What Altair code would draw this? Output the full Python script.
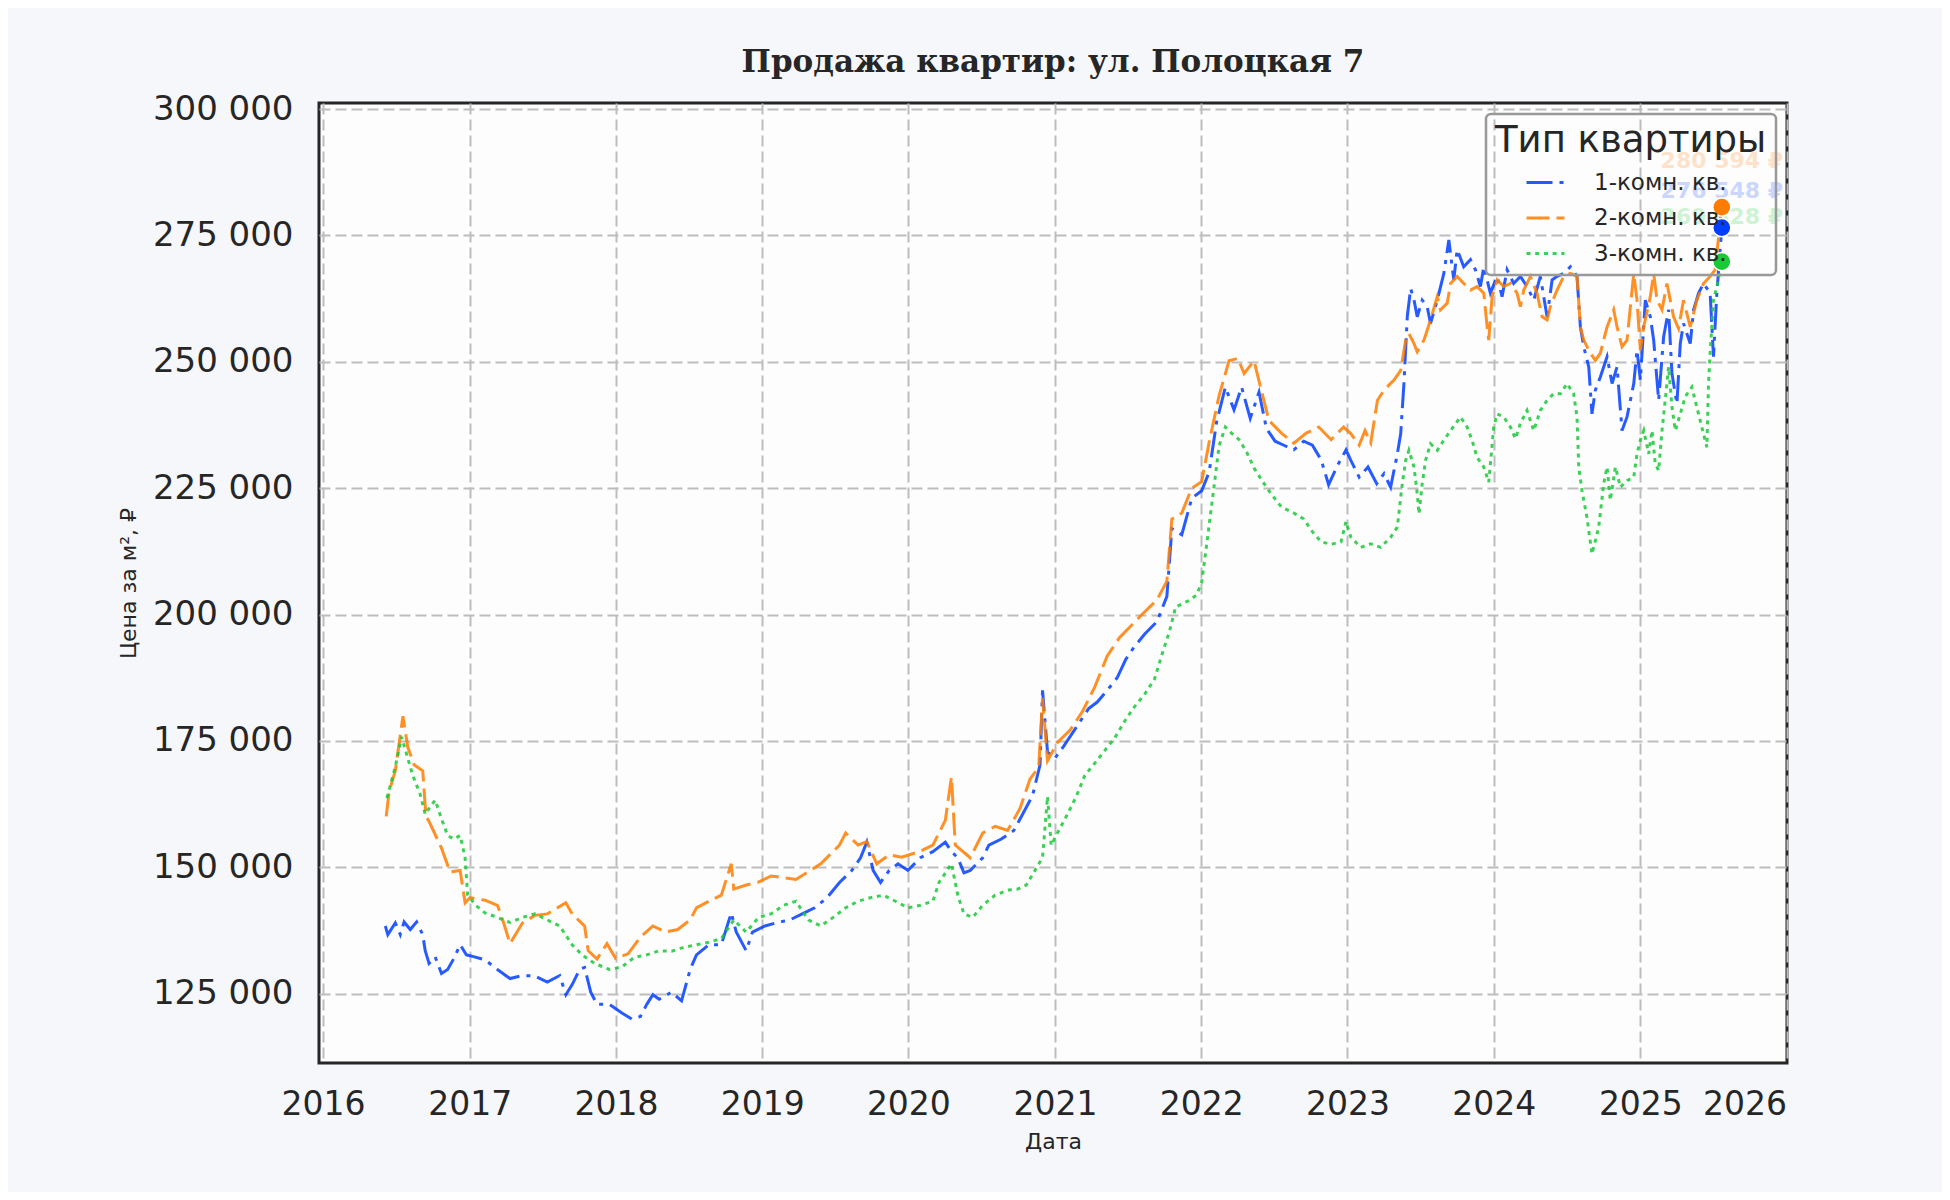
import altair as alt
import pandas as pd

TYPES = ["1-комн. кв.", "2-комн. кв.", "3-комн. кв."]
COLORS = ["#023eff", "#ff7c00", "#1ac938"]
DASHES = [[26, 7, 4, 7], [23, 7], [4, 4.7]]
LABEL_DY = [-37, -46, -45]
Y_TICKS = [125000, 150000, 175000, 200000, 225000, 250000, 275000, 300000]

# (decimal year, price per m2)
one_room = [
    (2016.425, 138400), (2016.442, 136700), (2016.493, 139000), (2016.527, 136700), (2016.553, 139200),
    (2016.595, 137700), (2016.638, 139200), (2016.680, 136700), (2016.697, 133500), (2016.723, 131000),
    (2016.765, 132300), (2016.808, 129000), (2016.850, 129800), (2016.893, 132000), (2016.935, 134700),
    (2016.978, 132700), (2017.020, 132400), (2017.105, 131700), (2017.190, 129800), (2017.276, 128000),
    (2017.361, 128600), (2017.446, 128500), (2017.531, 127300), (2017.616, 128600), (2017.658, 124800),
    (2017.701, 126800), (2017.752, 129800), (2017.786, 130200), (2017.828, 125300), (2017.871, 122900),
    (2017.956, 122900), (2018.041, 121200), (2018.109, 120000), (2018.168, 120500), (2018.211, 122900),
    (2018.253, 124800), (2018.296, 123900), (2018.381, 125300), (2018.449, 123600), (2018.508, 129800),
    (2018.551, 132700), (2018.636, 134700), (2018.721, 134700), (2018.789, 141000), (2018.823, 137200),
    (2018.891, 133500), (2018.934, 137200), (2019.019, 138400), (2019.104, 139100), (2019.189, 139600),
    (2019.274, 140800), (2019.359, 142000), (2019.444, 144000), (2019.529, 147000), (2019.614, 149400),
    (2019.673, 151900), (2019.716, 155000), (2019.759, 149400), (2019.810, 147000), (2019.869, 149400),
    (2019.929, 150700), (2019.997, 149400), (2020.082, 151900), (2020.167, 153100), (2020.252, 155000),
    (2020.294, 153100), (2020.337, 151900), (2020.379, 148900), (2020.422, 149400), (2020.507, 151900),
    (2020.549, 154400), (2020.634, 155600), (2020.719, 157300), (2020.779, 160500), (2020.847, 164200),
    (2020.898, 170300), (2020.915, 185000), (2020.949, 172800), (2021.000, 171600), (2021.060, 174000),
    (2021.145, 177700), (2021.230, 181400), (2021.289, 182700), (2021.357, 185000), (2021.425, 187500),
    (2021.485, 191200), (2021.544, 193700), (2021.612, 196100), (2021.697, 198600), (2021.765, 203600),
    (2021.799, 217000), (2021.867, 215800), (2021.935, 223000), (2022.003, 224500), (2022.054, 228200),
    (2022.105, 238100), (2022.165, 245000), (2022.224, 240500), (2022.276, 245000), (2022.335, 238800),
    (2022.395, 244000), (2022.446, 236800), (2022.505, 234300), (2022.565, 233500), (2022.633, 232600),
    (2022.701, 234300), (2022.760, 233500), (2022.820, 230600), (2022.871, 225700), (2022.930, 229400),
    (2022.990, 232600), (2023.023, 230500), (2023.080, 227200), (2023.140, 229200), (2023.200, 225900),
    (2023.250, 227900), (2023.295, 225200), (2023.341, 231800), (2023.364, 235800), (2023.386, 245700),
    (2023.409, 259000), (2023.432, 264500), (2023.455, 262200), (2023.477, 258900), (2023.511, 262200),
    (2023.545, 260900), (2023.568, 257600), (2023.614, 262200), (2023.659, 267500), (2023.693, 274100),
    (2023.727, 266200), (2023.750, 272200), (2023.795, 268800), (2023.841, 270200), (2023.875, 268200),
    (2023.909, 264900), (2023.932, 268800), (2023.977, 263600), (2024.023, 266900), (2024.057, 262900),
    (2024.091, 268200), (2024.136, 265500), (2024.182, 266900), (2024.227, 264900), (2024.273, 262200),
    (2024.318, 266900), (2024.364, 258900), (2024.398, 266200), (2024.432, 266900), (2024.477, 267500),
    (2024.523, 268800), (2024.568, 266900), (2024.591, 256900), (2024.614, 253000), (2024.648, 249000),
    (2024.670, 239700), (2024.693, 244400), (2024.727, 247000), (2024.773, 251000), (2024.807, 245700),
    (2024.841, 249000), (2024.875, 236400), (2024.909, 239100), (2024.955, 245700), (2024.977, 252300),
    (2025.000, 246400), (2025.034, 262200), (2025.068, 258900), (2025.091, 254300), (2025.125, 242400),
    (2025.159, 254900), (2025.193, 260300), (2025.216, 247700), (2025.250, 241700), (2025.273, 253600),
    (2025.295, 257600), (2025.341, 253600), (2025.364, 260300), (2025.398, 263600), (2025.432, 265500),
    (2025.477, 263600), (2025.500, 251000), (2025.523, 263600), (2025.557, 276548),
]

two_room = [
    (2016.431, 160100), (2016.451, 165000), (2016.493, 169100), (2016.545, 179900), (2016.578, 173800),
    (2016.621, 170300), (2016.680, 169100), (2016.702, 160100), (2016.723, 159100), (2016.765, 156500),
    (2016.808, 153800), (2016.867, 149100), (2016.935, 149400), (2016.969, 143000), (2017.003, 144000),
    (2017.105, 143500), (2017.190, 142500), (2017.233, 139000), (2017.276, 134900), (2017.361, 139000),
    (2017.446, 140500), (2017.531, 140800), (2017.658, 143000), (2017.701, 140800), (2017.786, 138400),
    (2017.811, 133500), (2017.871, 131900), (2017.939, 134900), (2017.998, 132000), (2018.083, 132900),
    (2018.168, 136200), (2018.253, 138400), (2018.338, 137200), (2018.423, 137700), (2018.508, 139600),
    (2018.551, 142000), (2018.636, 143300), (2018.721, 144500), (2018.789, 150700), (2018.806, 145700),
    (2018.891, 146500), (2018.976, 147100), (2019.061, 148300), (2019.231, 147600), (2019.401, 150700),
    (2019.529, 154400), (2019.571, 156800), (2019.656, 154400), (2019.716, 155100), (2019.784, 150700),
    (2019.869, 152500), (2019.954, 152000), (2020.082, 153200), (2020.167, 154400), (2020.252, 159300),
    (2020.294, 167900), (2020.320, 154400), (2020.422, 151900), (2020.507, 156800), (2020.592, 158100),
    (2020.677, 157300), (2020.762, 161700), (2020.830, 167500), (2020.889, 169800), (2020.915, 183500),
    (2020.949, 171100), (2021.017, 174700), (2021.102, 177100), (2021.187, 180800), (2021.272, 185700),
    (2021.357, 191800), (2021.442, 195500), (2021.527, 198000), (2021.612, 200500), (2021.697, 202900),
    (2021.765, 206600), (2021.799, 218900), (2021.867, 220100), (2021.935, 225000), (2022.003, 226300),
    (2022.054, 234100), (2022.122, 243300), (2022.190, 250200), (2022.250, 250700), (2022.293, 247700),
    (2022.361, 250200), (2022.420, 243300), (2022.463, 238400), (2022.548, 235900), (2022.633, 233900),
    (2022.718, 235900), (2022.803, 237100), (2022.888, 234600), (2022.973, 237100), (2023.023, 235800),
    (2023.080, 233500), (2023.120, 236400), (2023.159, 234000), (2023.205, 242400), (2023.250, 244400),
    (2023.318, 246400), (2023.364, 248300), (2023.398, 254300), (2023.420, 255600), (2023.455, 253600),
    (2023.477, 252000), (2023.523, 254300), (2023.568, 258300), (2023.614, 262900), (2023.636, 260300),
    (2023.682, 261600), (2023.705, 265500), (2023.750, 266900), (2023.795, 265500), (2023.841, 264200),
    (2023.886, 264900), (2023.932, 263600), (2023.955, 256900), (2023.966, 254300), (2023.989, 262900),
    (2024.023, 266200), (2024.068, 264900), (2024.114, 265500), (2024.159, 263600), (2024.182, 260900),
    (2024.205, 264200), (2024.250, 266900), (2024.295, 263600), (2024.330, 258900), (2024.364, 258300),
    (2024.386, 260900), (2024.432, 264200), (2024.477, 266900), (2024.523, 267500), (2024.568, 266900),
    (2024.591, 256900), (2024.614, 254300), (2024.659, 251700), (2024.693, 250300), (2024.727, 251700),
    (2024.773, 256900), (2024.818, 260300), (2024.841, 256900), (2024.875, 253000), (2024.909, 254300),
    (2024.955, 267500), (2024.977, 262200), (2025.000, 252300), (2025.023, 256900), (2025.068, 262900),
    (2025.091, 267500), (2025.114, 262200), (2025.148, 260300), (2025.182, 265500), (2025.227, 258900),
    (2025.261, 256600), (2025.295, 262200), (2025.341, 256900), (2025.386, 262200), (2025.432, 265500),
    (2025.477, 266900), (2025.511, 268200), (2025.557, 280594),
]

three_room = [
    (2016.436, 163700), (2016.493, 169900), (2016.536, 175800), (2016.570, 172400), (2016.612, 168200),
    (2016.663, 164400), (2016.697, 160500), (2016.731, 162000), (2016.765, 163300), (2016.808, 159600),
    (2016.850, 156300), (2016.893, 155600), (2016.935, 156300), (2016.969, 151900), (2016.986, 144600),
    (2017.037, 142600), (2017.105, 141000), (2017.190, 140100), (2017.276, 139100), (2017.361, 140100),
    (2017.446, 140800), (2017.531, 139600), (2017.616, 138400), (2017.701, 134700), (2017.769, 132700),
    (2017.854, 131000), (2017.956, 129800), (2018.041, 130300), (2018.126, 132200), (2018.211, 132700),
    (2018.296, 133500), (2018.381, 133400), (2018.466, 134200), (2018.551, 134700), (2018.636, 135200),
    (2018.721, 135900), (2018.806, 139600), (2018.891, 137200), (2018.976, 140100), (2019.061, 140800),
    (2019.146, 142500), (2019.231, 143300), (2019.316, 139600), (2019.401, 138400), (2019.486, 140100),
    (2019.571, 142000), (2019.656, 143300), (2019.741, 144000), (2019.827, 144500), (2019.912, 143300),
    (2019.997, 142000), (2020.082, 142500), (2020.167, 143300), (2020.209, 147000), (2020.294, 150700),
    (2020.337, 144500), (2020.379, 140800), (2020.439, 140100), (2020.507, 142500), (2020.592, 144500),
    (2020.677, 145500), (2020.745, 145700), (2020.804, 146500), (2020.864, 149400), (2020.915, 151900),
    (2020.949, 164000), (2020.974, 154400), (2021.017, 156800), (2021.085, 160500), (2021.145, 164000),
    (2021.204, 168200), (2021.272, 170600), (2021.340, 173100), (2021.408, 175600), (2021.485, 179300),
    (2021.544, 181800), (2021.612, 184200), (2021.680, 187200), (2021.740, 192900), (2021.782, 196600),
    (2021.825, 201500), (2021.910, 202700), (2021.969, 203900), (2022.003, 206400), (2022.037, 213800),
    (2022.080, 223600), (2022.122, 233400), (2022.165, 237100), (2022.207, 235900), (2022.259, 234600),
    (2022.310, 232200), (2022.361, 229000), (2022.420, 226300), (2022.480, 223800), (2022.548, 221300),
    (2022.633, 220100), (2022.701, 218900), (2022.760, 216400), (2022.820, 214400), (2022.888, 213900),
    (2022.956, 214400), (2022.990, 218400), (2023.023, 215300), (2023.091, 213300), (2023.159, 214000),
    (2023.227, 213300), (2023.295, 215300), (2023.341, 217300), (2023.364, 223200), (2023.375, 225900),
    (2023.398, 230500), (2023.420, 232500), (2023.455, 229200), (2023.477, 223900), (2023.489, 219900),
    (2023.511, 225900), (2023.534, 230500), (2023.568, 233800), (2023.614, 232500), (2023.659, 234500),
    (2023.705, 236400), (2023.773, 239100), (2023.818, 237100), (2023.852, 234500), (2023.886, 231100),
    (2023.932, 229200), (2023.966, 226200), (2024.000, 237100), (2024.023, 239700), (2024.068, 239100),
    (2024.114, 237100), (2024.148, 234800), (2024.182, 237800), (2024.227, 240400), (2024.273, 236400),
    (2024.318, 240400), (2024.364, 242400), (2024.409, 243700), (2024.455, 243700), (2024.500, 245700),
    (2024.545, 243700), (2024.568, 239100), (2024.580, 229200), (2024.602, 224500), (2024.636, 219200),
    (2024.670, 212000), (2024.693, 214600), (2024.716, 217300), (2024.750, 225900), (2024.773, 229200),
    (2024.795, 222600), (2024.830, 229200), (2024.864, 225200), (2024.909, 226500), (2024.955, 227200),
    (2024.977, 231800), (2025.000, 234500), (2025.023, 236400), (2025.057, 231800), (2025.080, 236400),
    (2025.102, 229800), (2025.125, 228500), (2025.148, 236400), (2025.170, 242400), (2025.193, 249000),
    (2025.216, 241100), (2025.239, 236400), (2025.273, 239700), (2025.307, 243100), (2025.352, 245000),
    (2025.386, 241100), (2025.420, 237100), (2025.455, 233100), (2025.466, 245700), (2025.477, 251700),
    (2025.500, 262200), (2025.523, 264900), (2025.557, 269828),
]


def to_iso(t):
    y = int(t)
    start = pd.Timestamp(year=y, month=1, day=1)
    end = pd.Timestamp(year=y + 1, month=1, day=1)
    return (start + (end - start) * (t - y)).strftime("%Y-%m-%dT%H:%M:%S")


rows = []
for name, series in zip(TYPES, [one_room, two_room, three_room]):
    for t, v in series:
        rows.append({"date": to_iso(t), "price": v, "type": name})
df = pd.DataFrame(rows)

last_rows = []
for name, series in zip(TYPES, [one_room, two_room, three_room]):
    t, v = series[-1]
    last_rows.append({"date": to_iso(t), "price": v, "type": name,
                      "label": f"{v:,}".replace(",", " ") + " ₽"})
last = pd.DataFrame(last_rows)

x_enc = alt.X(
    "date:T", title="Дата",
    scale=alt.Scale(domain=[alt.DateTime(year=2015, month=12, date=22),
                            alt.DateTime(year=2026, month=1, date=2)]),
    axis=alt.Axis(format="%Y", tickCount=alt.TimeIntervalStep(interval="year", step=1)),
)
y_enc = alt.Y(
    "price:Q", title="Цена за м², ₽",
    scale=alt.Scale(domain=[111300, 301200], nice=False, zero=False),
    axis=alt.Axis(values=Y_TICKS, labelExpr="replace(format(datum.value, ',d'), /,/g, ' ')"),
)

legend = alt.Legend(title="Тип квартиры")
lines = alt.Chart(df).mark_line(strokeWidth=3, opacity=0.85, strokeCap="butt").encode(
    x=x_enc, y=y_enc,
    color=alt.Color("type:N", scale=alt.Scale(domain=TYPES, range=COLORS), legend=legend),
    strokeDash=alt.StrokeDash("type:N", scale=alt.Scale(domain=TYPES, range=DASHES), legend=legend),
)

label_layers = []
for name, dy in zip(TYPES, LABEL_DY):
    label_layers.append(
        alt.Chart(last).transform_filter(alt.datum.type == name).mark_text(
            font="DejaVu Sans", fontSize=22, fontWeight="bold", dy=dy,
            align="center", baseline="middle", opacity=0.2,
        ).encode(x=x_enc, y=y_enc, text="label:N", color=alt.Color("type:N", legend=None))
    )

points = alt.Chart(last).mark_circle(size=330, opacity=1, stroke="white", strokeWidth=1.5).encode(
    x=x_enc, y=y_enc, color=alt.Color("type:N", legend=None)
)

chart = alt.layer(lines, *label_layers, points).properties(
    width=1468, height=960,
    title=alt.TitleParams(
        "Продажа квартир: ул. Полоцкая 7", font="DejaVu Serif", fontSize=31,
        fontWeight="bold", color="#262626", anchor="middle", frame="group",
        offset=25, baseline="bottom", dy=43,
    ),
    autosize=alt.AutoSizeParams(type="none"),
    padding={"left": 311, "top": 95, "right": 155, "bottom": 129},
    background="#f5f7fb",
).configure_view(
    fill="#fdfdfd", stroke="#262626", strokeWidth=3
).configure_axis(
    labelFont="DejaVu Sans", labelFontSize=33, labelColor="#262626",
    titleFont="DejaVu Sans", titleFontSize=22, titleFontWeight="normal", titleColor="#262626",
    gridColor="#bdbdbd", gridWidth=2, gridDash=[11, 5], domain=False, ticks=False, tickSize=0,
).configure_axisX(
    labelPadding=25, titlePadding=10
).configure_axisY(
    labelPadding=26, titlePadding=12, labelFontSize=34
).configure_legend(
    orient="top-right", offset=11, padding=9,
    titleFont="DejaVu Sans", titleFontSize=37, titleFontWeight="normal", titleColor="#262626",
    titlePadding=2, titleLimit=600,
    labelFont="DejaVu Sans", labelFontSize=23, labelColor="#262626", labelLimit=400,
    symbolType="stroke", symbolSize=1444, symbolStrokeWidth=3, symbolOffset=30,
    labelOffset=28, rowPadding=2.5,
    strokeColor="#999999", strokeWidth=2.5, cornerRadius=5,
)

chart.save("out.html", embed_options={"renderer": "svg", "actions": False})
